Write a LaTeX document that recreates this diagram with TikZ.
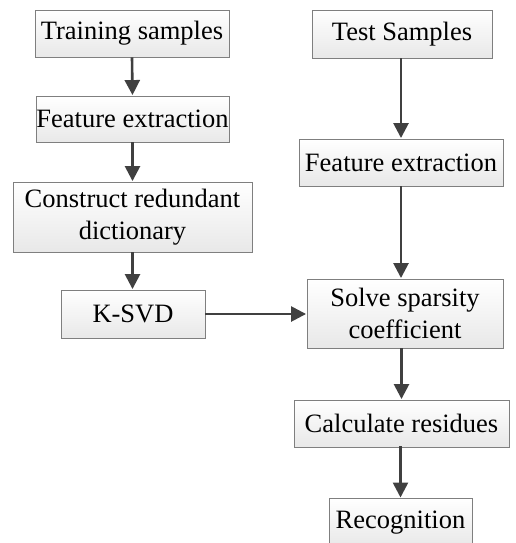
\documentclass[tikz,border=0pt]{standalone}
\usepackage{fontspec}
\setmainfont{Liberation Serif}
\usetikzlibrary{arrows.meta}
\definecolor{arr}{HTML}{404040}
\definecolor{bord}{HTML}{7F7F7F}
\tikzset{
  box/.style={draw=bord, line width=0.9pt, top color=white, bottom color=black!9,
    inner sep=0pt, align=center, font=\fontsize{26.5}{32}\selectfont},
  flow/.style={draw=arr, line width=2.6pt, -{Triangle[length=15pt,width=15pt]}, shorten >=0.5pt}
}
\begin{document}
\begin{tikzpicture}[x=1pt,y=-1pt]
\useasboundingbox (0,0) rectangle (515,543);
\node[box, minimum width=194pt, minimum height=47pt] (ts) at (132,33.5) {Training samples};
\node[box, minimum width=193pt, minimum height=46pt] (fl) at (132.5,119) {Feature extraction};
\node[box, minimum width=239pt, minimum height=70pt] (cr) at (132.5,217) {Construct redundant\\dictionary};
\node[box, minimum width=144pt, minimum height=48pt] (ks) at (133,314) {K-SVD};
\node[box, minimum width=180pt, minimum height=48pt] (te) at (402,34) {Test Samples};
\node[box, minimum width=204pt, minimum height=47pt] (fr) at (401,162.5) {Feature extraction};
\node[box, minimum width=196pt, minimum height=69pt] (so) at (405,313.5) {Solve sparsity\\coefficient};
\node[box, minimum width=215pt, minimum height=47pt] (ca) at (401.5,423.5) {Calculate residues};
\node[box, minimum width=143pt, minimum height=48pt, anchor=north] (re) at (400.5,498) {Recognition};
\draw[flow] (ts.south) -- (fl.north);
\draw[flow] (fl.south) -- (fl.south |- cr.north);
\draw[flow] (cr.south) -- (cr.south |- ks.north);
\draw[flow] (te.south -| fr.south) -- (fr.north);
\draw[flow] (fr.south) -- (fr.south |- so.north);
\draw[flow] (ks.east) -- (ks.east -| so.west);
\draw[flow] (so.south -| ca.north) -- (ca.north);
\draw[flow] (ca.south) -- (ca.south -| re.north) -- (re.north);
\end{tikzpicture}
\end{document}
